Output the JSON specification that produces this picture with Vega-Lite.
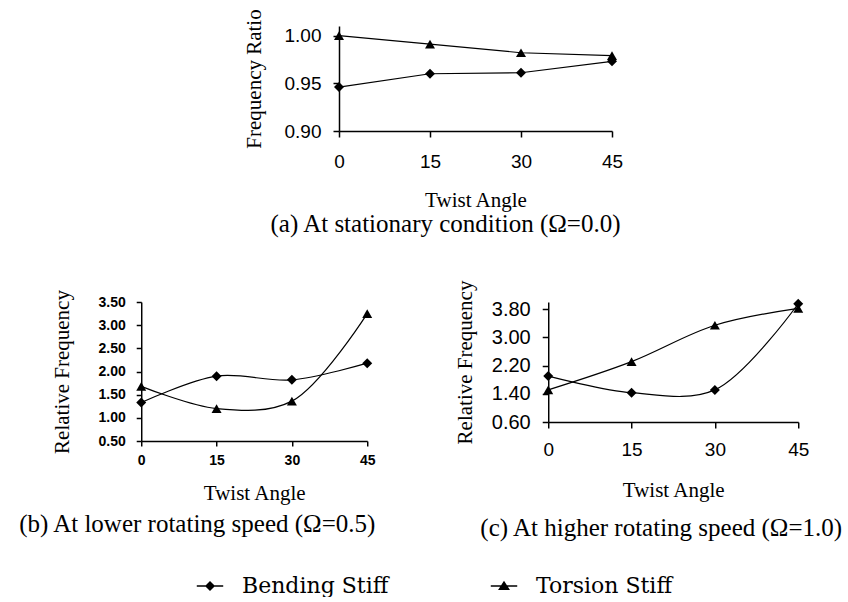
{
  "$schema": "https://vega.github.io/schema/vega-lite/v6.json",
  "background": "white",
  "padding": {"left": 18, "top": 8, "right": 0, "bottom": 0},
  "config": {
    "view": {"stroke": null},
    "axis": {"grid": false, "domainColor": "#000", "tickColor": "#000", "domainWidth": 1.5, "tickWidth": 1.5, "labelColor": "#000", "titleColor": "#000", "titleFont": "Liberation Serif", "titleFontWeight": "normal", "titleFontSize": 21, "labelFont": "Liberation Sans", "labelFlush": false},
    "title": {"font": "Liberation Serif", "fontSize": 25, "fontWeight": "normal", "color": "#000", "orient": "bottom", "anchor": "middle", "frame": "group"},
    "legend": {"orient": "none", "legendX": 55, "legendY": 546, "direction": "horizontal", "title": null, "labelFont": "DejaVu Serif", "labelFontSize": 22, "labelColor": "#000", "symbolSize": 700, "symbolStrokeWidth": 1.5, "symbolStrokeColor": "#000", "symbolFillColor": "#000", "labelOffset": 18, "columnPadding": 98}
  },
  "datasets": {
    "freq": [
      {"panel": "a", "series": "Bending Stiff", "angle": 0, "value": 0.946},
      {"panel": "a", "series": "Bending Stiff", "angle": 15, "value": 0.960},
      {"panel": "a", "series": "Bending Stiff", "angle": 30, "value": 0.961},
      {"panel": "a", "series": "Bending Stiff", "angle": 45, "value": 0.973},
      {"panel": "a", "series": "Torsion Stiff", "angle": 0, "value": 1.000},
      {"panel": "a", "series": "Torsion Stiff", "angle": 15, "value": 0.991},
      {"panel": "a", "series": "Torsion Stiff", "angle": 30, "value": 0.982},
      {"panel": "a", "series": "Torsion Stiff", "angle": 45, "value": 0.979},
      {"panel": "b", "series": "Bending Stiff", "angle": 0, "value": 1.33},
      {"panel": "b", "series": "Bending Stiff", "angle": 15, "value": 1.90},
      {"panel": "b", "series": "Bending Stiff", "angle": 30, "value": 1.82},
      {"panel": "b", "series": "Bending Stiff", "angle": 45, "value": 2.18},
      {"panel": "b", "series": "Torsion Stiff", "angle": 0, "value": 1.68},
      {"panel": "b", "series": "Torsion Stiff", "angle": 15, "value": 1.20},
      {"panel": "b", "series": "Torsion Stiff", "angle": 30, "value": 1.36},
      {"panel": "b", "series": "Torsion Stiff", "angle": 45, "value": 3.25},
      {"panel": "c", "series": "Bending Stiff", "angle": 0, "value": 1.90},
      {"panel": "c", "series": "Bending Stiff", "angle": 15, "value": 1.43},
      {"panel": "c", "series": "Bending Stiff", "angle": 30, "value": 1.51},
      {"panel": "c", "series": "Bending Stiff", "angle": 45, "value": 3.95},
      {"panel": "c", "series": "Torsion Stiff", "angle": 0, "value": 1.51},
      {"panel": "c", "series": "Torsion Stiff", "angle": 15, "value": 2.31},
      {"panel": "c", "series": "Torsion Stiff", "angle": 30, "value": 3.34},
      {"panel": "c", "series": "Torsion Stiff", "angle": 45, "value": 3.82}
    ]
  },
  "spacing": 43,
  "center": true,
  "vconcat": [
    {
      "hconcat": [
        {
          "width": 273, "height": 105,
          "data": {"name": "freq"},
          "transform": [{"filter": "datum.panel === 'a'"}],
          "title": {"text": "(a) At stationary condition (Ω=0.0)", "dx": -30, "offset": 2},
          "encoding": {
            "x": {"field": "angle", "type": "quantitative", "scale": {"domain": [0, 45], "nice": false, "zero": false}, "axis": {"values": [0, 15, 30, 45], "title": "Twist Angle", "labelFontSize": 19, "labelPadding": 15, "tickSize": 6, "titlePadding": 18}},
            "y": {"field": "value", "type": "quantitative", "scale": {"domain": [0.9, 1.01], "nice": false, "zero": false}, "axis": {"values": [0.9, 0.95, 1.0], "format": ".2f", "title": "Frequency Ratio", "labelFontSize": 19, "tickSize": 6, "labelPadding": 12, "titlePadding": 20}}
          },
          "layer": [
            {"mark": {"type": "line", "strokeWidth": 1.2},
             "encoding": {"color": {"field": "series", "type": "nominal", "scale": {"domain": ["Bending Stiff", "Torsion Stiff"], "range": ["#000000", "#000000"]},
               "legend": {"labelFont": "DejaVu Serif", "labelFontSize": 22, "encode": {"symbols": {"update": {
                 "shape": {"signal": "datum.value === 'Bending Stiff' ? 'M-1,0L1,0M-0.3,0L0,-0.3L0.3,0L0,0.3Z' : 'M-1,0L1,0M-0.35,0.25L0,-0.3L0.35,0.25Z'"},
                 "fill": {"value": "#000"}, "strokeWidth": {"value": 1.5}}}}}}}},
            {"mark": {"type": "point", "filled": true, "color": "#000", "opacity": 1, "size": 100},
             "encoding": {"shape": {"field": "series", "type": "nominal", "scale": {"range": ["diamond", "triangle-up"]}, "legend": null}}}
          ]
        },
        {"width": 22, "height": 10, "data": {"values": [{"s": 1}]}, "mark": {"type": "point", "opacity": 0}}
      ],
      "spacing": 0
    },
    {
      "hconcat": [
        {
          "width": 226, "height": 139,
          "data": {"name": "freq"},
          "transform": [{"filter": "datum.panel === 'b'"}],
          "title": {"text": "(b) At lower rotating speed (Ω=0.5)", "dx": -57, "offset": 9},
          "encoding": {
            "x": {"field": "angle", "type": "quantitative", "scale": {"domain": [0, 45], "nice": false, "zero": false}, "axis": {"values": [0, 15, 30, 45], "title": "Twist Angle", "labelFontSize": 14, "labelFontWeight": "bold", "labelPadding": 7, "tickSize": 5, "titlePadding": 15}},
            "y": {"field": "value", "type": "quantitative", "scale": {"domain": [0.5, 3.5], "nice": false, "zero": false}, "axis": {"values": [0.5, 1, 1.5, 2, 2.5, 3, 3.5], "format": ".2f", "title": "Relative Frequency", "labelFontSize": 14, "labelFontWeight": "bold", "tickSize": 5, "labelPadding": 11, "titlePadding": 25}}
          },
          "layer": [
            {"mark": {"type": "line", "strokeWidth": 1.2, "interpolate": "catmull-rom"},
             "encoding": {"color": {"field": "series", "type": "nominal", "scale": {"domain": ["Bending Stiff", "Torsion Stiff"], "range": ["#000000", "#000000"]},
               "legend": {"labelFont": "DejaVu Serif", "labelFontSize": 22, "encode": {"symbols": {"update": {
                 "shape": {"signal": "datum.value === 'Bending Stiff' ? 'M-1,0L1,0M-0.3,0L0,-0.3L0.3,0L0,0.3Z' : 'M-1,0L1,0M-0.35,0.25L0,-0.3L0.35,0.25Z'"},
                 "fill": {"value": "#000"}, "strokeWidth": {"value": 1.5}}}}}}}},
            {"mark": {"type": "point", "filled": true, "color": "#000", "opacity": 1, "size": 100},
             "encoding": {"shape": {"field": "series", "type": "nominal", "scale": {"range": ["diamond", "triangle-up"]}, "legend": null}}}
          ]
        },
        {
          "width": 250, "height": 120,
          "data": {"name": "freq"},
          "transform": [{"filter": "datum.panel === 'c'"}],
          "title": {"text": "(c) At higher rotating speed (Ω=1.0)", "dx": -12, "offset": 16},
          "encoding": {
            "x": {"field": "angle", "type": "quantitative", "scale": {"domain": [0, 45], "nice": false, "zero": false}, "axis": {"values": [0, 15, 30, 45], "title": "Twist Angle", "labelFontSize": 19, "labelPadding": 12, "tickSize": 6, "titlePadding": 20}},
            "y": {"field": "value", "type": "quantitative", "scale": {"domain": [0.6, 4.0], "nice": false, "zero": false}, "axis": {"values": [0.6, 1.4, 2.2, 3.0, 3.8], "format": ".2f", "title": "Relative Frequency", "labelFontSize": 20, "tickSize": 6, "labelPadding": 12, "titlePadding": 16}}
          },
          "layer": [
            {"mark": {"type": "line", "strokeWidth": 1.2, "interpolate": "catmull-rom"},
             "encoding": {"color": {"field": "series", "type": "nominal", "scale": {"domain": ["Bending Stiff", "Torsion Stiff"], "range": ["#000000", "#000000"]},
               "legend": {"labelFont": "DejaVu Serif", "labelFontSize": 22, "encode": {"symbols": {"update": {
                 "shape": {"signal": "datum.value === 'Bending Stiff' ? 'M-1,0L1,0M-0.3,0L0,-0.3L0.3,0L0,0.3Z' : 'M-1,0L1,0M-0.35,0.25L0,-0.3L0.35,0.25Z'"},
                 "fill": {"value": "#000"}, "strokeWidth": {"value": 1.5}}}}}}}},
            {"mark": {"type": "point", "filled": true, "color": "#000", "opacity": 1, "size": 100},
             "encoding": {"shape": {"field": "series", "type": "nominal", "scale": {"range": ["diamond", "triangle-up"]}, "legend": null}}}
          ]
        }
      ],
      "spacing": 78
    }
  ]
}
